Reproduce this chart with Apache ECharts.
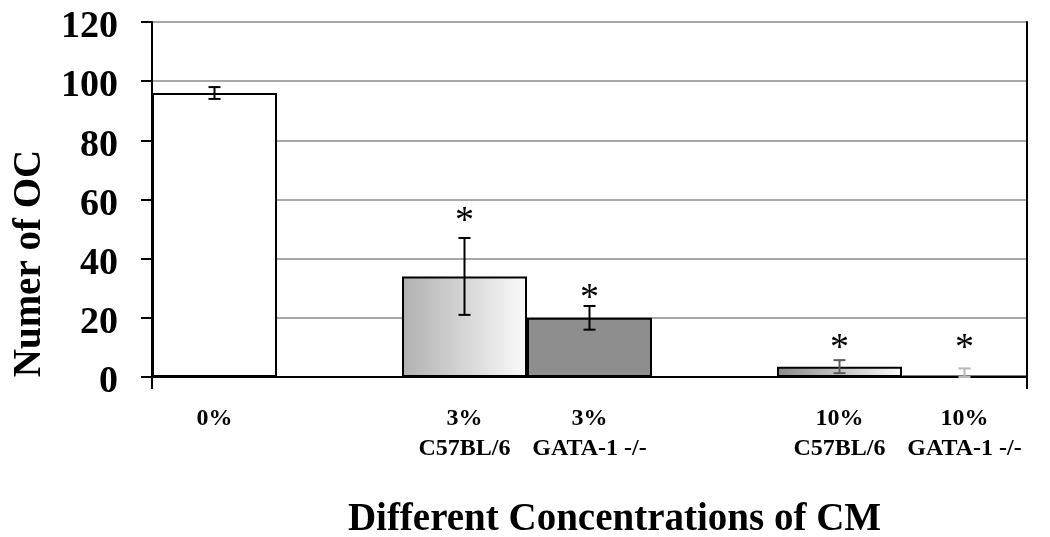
<!DOCTYPE html>
<html>
<head>
<meta charset="utf-8">
<script src="https://cdn.jsdelivr.net/npm/echarts@6/dist/echarts.min.js"></script>
<style>
  html, body { margin: 0; padding: 0; background: #ffffff; }
  #chart { width: 1050px; height: 537px; }
</style>
</head>
<body>
<div id="chart"></div>
<script>
// ---- data ----
const categories = ['0%', '', '3%\nC57BL/6', '3%\nGATA-1 -/-', '', '10%\nC57BL/6', '10%\nGATA-1 -/-'];
const values = [96, null, 34, 20, null, 3.5, 0.3];
const errors = [2, null, 13, 4, null, 2.2, 2.6];
const starLevels = [null, null, 52.5, 26.5, null, 9.5, 9.5];
const yMin = 0, yMax = 120, yStep = 20;
const xTitle = 'Different Concentrations of CM';
const yTitle = 'Numer of OC';

// ---- styles ----
const SERIF = '"Liberation Serif", "Times New Roman", serif';
function hGrad(a, b) {
  return new echarts.graphic.LinearGradient(0, 0, 1, 0, [
    { offset: 0, color: a }, { offset: 1, color: b }
  ]);
}
const barFills = ['#ffffff', null, hGrad('#b0b0b0', '#fbfbfb'), '#8e8e8e', null, hGrad('#8a8a8a', '#fbfbfb'), '#8e8e8e'];
const errColors = ['#000000', null, '#000000', '#000000', null, '#5a5a5a', '#b8b8b8'];

const barData = values.map((v, i) => v == null ? '-' : {
  value: v,
  itemStyle: { color: barFills[i] }
});
const errData = [];
values.forEach((v, i) => {
  if (v == null || errors[i] == null) return;
  errData.push({ value: [i, Math.max(0, v - errors[i]), v + errors[i]], color: errColors[i] });
});
const starData = [];
starLevels.forEach((s, i) => { if (s != null) starData.push([i, s]); });

const chart = echarts.init(document.getElementById('chart'), null, { renderer: 'canvas' });
chart.setOption({
  animation: false,
  backgroundColor: '#ffffff',
  grid: { left: 152, right: 23, top: 22, bottom: 160, containLabel: false, outerBoundsMode: 'none' },
  xAxis: [{
    type: 'category',
    data: categories,
    position: 'bottom',
    boundaryGap: true,
    axisLine: { show: true, lineStyle: { color: '#000', width: 2 } },
    axisTick: { show: true, length: 12, interval: (idx) => idx === 0, lineStyle: { color: '#000', width: 2 } },
    axisLabel: {
      interval: 0, margin: 27,
      fontFamily: SERIF, fontWeight: 'bold', fontSize: 24, lineHeight: 30, color: '#000'
    },
    name: xTitle,
    nameLocation: 'middle',
    nameGap: 123,
    nameTextStyle: { fontFamily: SERIF, fontWeight: 'bold', fontSize: 39, color: '#000', padding: [0, 0, 0, 50] }
  }, {
    type: 'category',
    data: categories,
    position: 'top',
    axisLine: { show: true, lineStyle: { color: '#000', width: 2 } },
    axisTick: { show: false },
    axisLabel: { show: false }
  }],
  yAxis: [{
    type: 'value',
    min: yMin, max: yMax, interval: yStep,
    axisLine: { show: true, lineStyle: { color: '#000', width: 2 } },
    axisTick: { show: true, length: 11, lineStyle: { color: '#000', width: 2 } },
    axisLabel: { margin: 34, verticalAlign: 'top', lineHeight: 11, fontFamily: SERIF, fontWeight: 'bold', fontSize: 38, color: '#000' },
    splitLine: { show: true, lineStyle: { color: '#8a8a8a', width: 1.5 } },
    name: yTitle,
    nameLocation: 'middle',
    nameGap: 103,
    nameRotate: 90,
    nameTextStyle: { fontFamily: SERIF, fontWeight: 'bold', fontSize: 39, color: '#000', padding: [0, 128, 0, 0] }
  }, {
    type: 'value',
    min: yMin, max: yMax, interval: yStep,
    position: 'right',
    axisLine: { show: true, lineStyle: { color: '#000', width: 2 } },
    axisTick: { show: false },
    axisLabel: { show: false },
    splitLine: { show: false }
  }],
  series: [{
    type: 'bar',
    data: barData,
    barCategoryGap: 0,
    barGap: 0,
    itemStyle: { borderColor: '#000', borderWidth: 2 },
    z: 2
  }, {
    type: 'custom',
    data: errData,
    encode: { x: 0, y: [1, 2] },
    z: 5,
    renderItem: function (params, api) {
      const x = api.value(0);
      const top = api.coord([x, api.value(2)]);
      const bot = api.coord([x, api.value(1)]);
      const color = errData[params.dataIndex].color;
      const half = 6;
      const style = { stroke: color, lineWidth: 2 };
      return {
        type: 'group',
        children: [
          { type: 'line', shape: { x1: top[0], y1: top[1], x2: bot[0], y2: bot[1] }, style: style },
          { type: 'line', shape: { x1: top[0] - half, y1: top[1], x2: top[0] + half, y2: top[1] }, style: style },
          { type: 'line', shape: { x1: bot[0] - half, y1: bot[1], x2: bot[0] + half, y2: bot[1] }, style: style }
        ]
      };
    }
  }, {
    type: 'scatter',
    data: starData,
    symbolSize: 1,
    itemStyle: { opacity: 0 },
    z: 6,
    label: {
      show: true, position: 'inside', formatter: '*',
      fontFamily: SERIF, fontSize: 38, color: '#000', opacity: 1
    }
  }]
});
</script>
</body>
</html>
